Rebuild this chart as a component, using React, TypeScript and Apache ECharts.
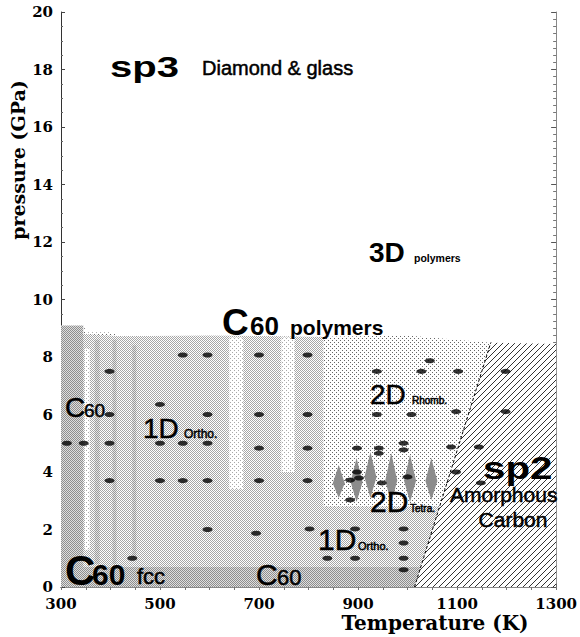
import React, { useEffect, useRef } from "react";
import * as echarts from "echarts";

// ---- data (Temperature K, Pressure GPa) ----
const dots: number[][] = [
  [398, 7.5], [398, 6.0], [312, 5.0], [346, 5.0], [398, 5.0], [398, 3.7],
  [500, 6.35], [500, 5.0], [546, 5.0], [596, 5.0], [500, 3.7], [546, 3.7], [596, 3.7],
  [546, 8.07], [596, 8.07], [596, 6.0], [596, 2.0], [444, 1.0],
  [700, 8.07], [700, 6.0], [700, 4.83], [700, 3.7], [694, 1.87],
  [798, 8.07], [798, 6.0], [798, 4.83], [798, 3.7],
  [938, 7.5], [1028, 7.5], [1045, 7.87], [1102, 7.5], [1198, 7.5],
  [938, 6.0], [1008, 6.0], [1098, 6.1], [1198, 6.1],
  [898, 4.83], [942, 4.83], [942, 4.65], [992, 5.0], [992, 4.77], [1088, 4.87], [1144, 4.87],
  [898, 4.0], [884, 3.72], [902, 3.79], [948, 3.62], [1000, 3.83], [1098, 4.0], [1148, 3.62], [884, 3.03],
  [802, 2.02], [894, 2.02], [992, 2.02], [992, 1.53], [838, 1.0], [894, 1.0], [992, 1.0], [992, 0.6],
];
// diamonds: [T, bottom, top]
const diamonds: number[][] = [
  [861, 3.1, 4.24], [897, 2.96, 4.49], [925, 3.1, 4.7], [967, 2.92, 4.66], [1005, 2.96, 4.6], [1048, 3.03, 4.49],
];
const polymerRegion: number[][] = [
  [300, 0], [300, 9.1], [345, 9.1], [352, 8.85], [400, 8.85], [420, 8.72], [600, 8.75], [800, 8.7],
  [1000, 8.75], [1168, 8.5], [1014, 0],
];
const orthoRegion: number[][] = [
  [300, 0], [300, 8.85], [420, 8.72], [600, 8.75], [830, 8.7], [830, 2.8], [1065, 2.8], [1014, 0],
];
const lightStripes: number[][][] = [
  [[640, 3.4], [668, 3.4], [668, 8.68], [640, 8.68]],
  [[745, 4.0], [772, 4.0], [772, 8.68], [745, 8.68]],
  [[348, 1.3], [358, 1.3], [358, 8.3], [348, 8.3]],
];
const grayStripes: number[][][] = [
  [[368, 0.8], [378, 0.8], [378, 8.6], [368, 8.6]],
  [[404, 0.8], [412, 0.8], [412, 8.6], [404, 8.6]],
  [[444, 1.0], [452, 1.0], [452, 8.4], [444, 8.4]],
];
const leftStrip: number[][] = [[300, 0], [345, 0], [345, 9.1], [300, 9.1]];
const fccBand: number[][] = [[300, 0], [300, 0.7], [1027, 0.7], [1014, 0]];
const sp2Region: number[][] = [[1014, 0], [1168, 8.5], [1300, 8.45], [1300, 0]];
const boundary: number[][] = [[1014, 0], [1168, 8.5]];

function tile(w: number, h: number, bg: string, fg: string, pts: number[][]) {
  const c = document.createElement("canvas");
  c.width = w;
  c.height = h;
  const ctx = c.getContext("2d")!;
  ctx.fillStyle = bg;
  ctx.fillRect(0, 0, w, h);
  ctx.fillStyle = fg;
  pts.forEach(([x, y]) => ctx.fillRect(x, y, 1, 1));
  return { image: c, repeat: "repeat" } as any;
}

const SANS = '"Liberation Sans", Arial, Helvetica, sans-serif';
const SERIF = '"DejaVu Serif", "Liberation Serif", serif';

function T(text: string, x: number, base: number, fs: number, weight = "bold", sx = 1, align = "left") {
  const heavy = weight === "normal";
  return {
    type: "text",
    x,
    y: base - 0.35 * fs,
    scaleX: sx,
    z: 100,
    silent: true,
    style: {
      text, x: 0, y: 0, fill: "#000", font: `${weight} ${fs}px ${SANS}`, align, verticalAlign: "middle",
      stroke: heavy ? "#000" : undefined, lineWidth: heavy ? 0.5 : 0,
    },
  };
}

export default function App() {
  const ref = useRef<HTMLDivElement>(null);
  useEffect(() => {
    const chart = echarts.init(ref.current!, undefined, { renderer: "svg" });
    const sparse = tile(4, 4, "#ffffff", "#666666", [[0, 0], [2, 2]]);
    const dense = tile(2, 2, "#ffffff", "#a6a6a6", [[0, 0], [1, 1]]);
    const light = tile(4, 4, "#ffffff", "#a8a8a8", [[0, 0], [2, 2]]);
    const gray = tile(2, 2, "#e4e4e4", "#999999", [[0, 0], [1, 1]]);
    const dark = tile(2, 2, "#dedede", "#8e8e8e", [[0, 0], [1, 1]]);
    const hatch = tile(6, 6, "#ffffff", "#333333", [[0, 5], [1, 4], [2, 3], [3, 2], [4, 1], [5, 0]]);

    const poly = (pts: number[][], fill: any, name: string) => ({
      type: "custom",
      name,
      silent: true,
      xAxisIndex: 0,
      yAxisIndex: 0,
      data: [[pts[0][0], pts[0][1]]],
      renderItem: (params: any, api: any) => ({
        type: "polygon",
        shape: { points: pts.map((p) => api.coord(p)) },
        style: { fill, stroke: "none" },
      }),
    });

    const series: any[] = [
      poly(polymerRegion, sparse, "polymer"),
      poly(orthoRegion, dense, "ortho"),
      ...lightStripes.map((s, i) => poly(s, light, "light" + i)),
      ...grayStripes.map((s, i) => poly(s, gray, "gray" + i)),
      poly(leftStrip, dark, "left"),
      poly(fccBand, dark, "fcc"),
      poly(sp2Region, hatch, "sp2"),
      {
        type: "line",
        data: boundary,
        symbol: "none",
        silent: true,
        lineStyle: { color: "#000", width: 1, type: [3, 2] },
      },
      {
        type: "custom",
        silent: true,
        data: diamonds,
        renderItem: (params: any, api: any) => {
          const t = api.value(0), b = api.value(1), tp = api.value(2);
          const mid = b + 0.45 * (tp - b);
          const top = api.coord([t, tp]);
          const bot = api.coord([t, b]);
          const m = api.coord([t, mid]);
          return {
            type: "polygon",
            shape: { points: [top, [m[0] + 6, m[1]], bot, [m[0] - 6, m[1]]] },
            style: { fill: "#8c8c8c" },
          };
        },
      },
      {
        type: "scatter",
        data: dots,
        symbol: "circle",
        symbolSize: [10, 5],
        silent: true,
        itemStyle: { color: "#000" },
      },
    ];

    const axisLabel = { fontFamily: SERIF, fontWeight: "bold", fontSize: 15, color: "#000", formatter: (v: number) => String(v) };
    chart.setOption({
      animation: false,
      backgroundColor: "#fff",
      grid: { left: 61, right: 18, top: 12, bottom: 50 },
      xAxis: [
        {
          type: "value", min: 300, max: 1300, interval: 200, position: "bottom",
          axisLine: { lineStyle: { color: "#000", width: 1 } },
          axisTick: { inside: true, length: 3, lineStyle: { color: "#555" } },
          splitLine: { show: false },
          axisLabel: { ...axisLabel, margin: 9 },
        },
        {
          type: "value", min: 300, max: 1300, interval: 50, position: "top",
          axisLine: { show: true, lineStyle: { color: "#888", width: 1 } },
          axisTick: { inside: true, length: 3, lineStyle: { color: "#777" } },
          splitLine: { show: false },
          axisLabel: { show: false },
        },
      ],
      yAxis: [
        {
          type: "value", min: 0, max: 20, interval: 2, position: "left",
          axisLine: { show: true, lineStyle: { color: "#333", width: 1 } },
          axisTick: { inside: true, length: 4, lineStyle: { color: "#444" } },
          minorTick: { show: true, splitNumber: 4, length: 2, lineStyle: { color: "#666" } },
          splitLine: { show: false },
          axisLabel: { ...axisLabel, margin: 8 },
        },
        {
          type: "value", min: 0, max: 20, interval: 2, position: "right",
          axisLine: { show: true, lineStyle: { color: "#888", width: 1 } },
          axisTick: { inside: true, length: 5, lineStyle: { color: "#555" } },
          minorTick: { show: true, splitNumber: 8, length: 3, lineStyle: { color: "#777" } },
          splitLine: { show: false },
          axisLabel: { show: false },
        },
      ],
      graphic: [
        T("sp3", 110, 77, 29, "bold", 1.38),
        T("Diamond & glass", 202, 75, 20, "normal"),
        T("3D", 369, 262, 28, "bold"),
        T("polymers", 414, 262, 10.5, "bold"),
        T("C", 222, 335, 37, "bold"),
        T("60", 250, 335, 26, "bold"),
        T("polymers", 290, 335, 21, "bold"),
        T("C", 65, 417, 28, "normal"),
        T("60", 84, 417, 19, "normal"),
        T("1D", 143, 438, 28, "normal"),
        T("Ortho.", 184, 438, 12, "normal"),
        T("2D", 370, 404, 28, "normal"),
        T("Rhomb.", 412, 404, 10, "normal"),
        T("2D", 370, 512, 30, "normal"),
        T("Tetra.", 410, 512, 10, "normal"),
        T("1D", 318, 550, 30, "normal"),
        T("Ortho.", 358, 550, 11, "normal"),
        T("sp2", 483, 479, 31, "bold", 1.3),
        T("Amorphous", 450, 502, 21, "normal"),
        T("Carbon", 513, 527, 21, "normal", 1, "center"),
        T("C", 65, 585, 42, "bold"),
        T("60", 92, 585, 30, "bold"),
        T("fcc", 137, 584, 22, "normal"),
        T("C", 256, 585, 30, "normal"),
        T("60", 277, 585, 22, "normal"),
        {
          type: "text", x: 435, y: 623, z: 100, silent: true,
          style: { text: "Temperature (K)", x: 0, y: 0, fill: "#000", font: `bold 20px ${SERIF}`, align: "center", verticalAlign: "middle" },
        },
        {
          type: "text", x: 18, y: 160, rotation: Math.PI / 2, z: 100, silent: true,
          style: { text: "pressure (GPa)", x: 0, y: 0, fill: "#000", font: `bold 19px ${SERIF}`, align: "center", verticalAlign: "middle" },
        },
      ],
      series,
    });
    return () => chart.dispose();
  }, []);
  return <div ref={ref} style={{ position: "fixed", left: 0, top: 0, width: 580, height: 637 }} />;
}
